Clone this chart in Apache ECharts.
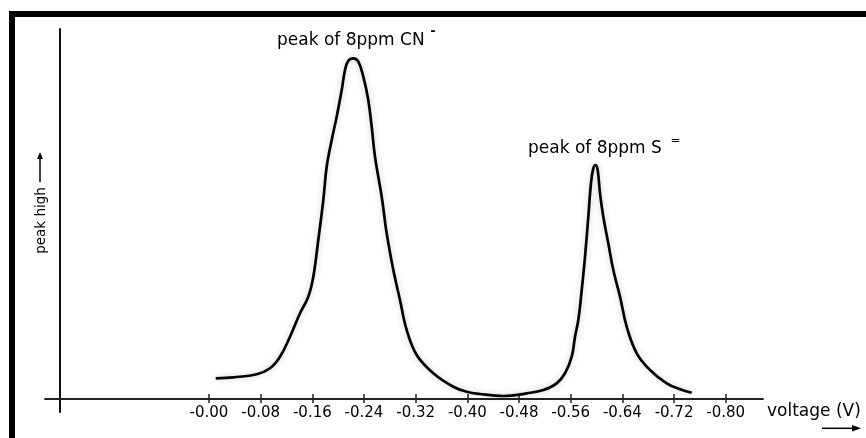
<!DOCTYPE html>
<html>
<head>
<meta charset="utf-8">
<style>
  html, body { margin: 0; padding: 0; background: #fff; }
  #chart { width: 866px; height: 438px; }
</style>
<script src="https://cdn.jsdelivr.net/npm/echarts@6/dist/echarts.min.js"></script>
</head>
<body>
<div id="chart"></div>
<script>
const voltage = [
  -0.0104, -0.0376, -0.0739, -0.0944, -0.1099, -0.1254, -0.1409, -0.1537, -0.1615, -0.1692,
  -0.1770, -0.1822, -0.1900, -0.1977, -0.2055, -0.2106, -0.2157, -0.2234, -0.2312, -0.2389,
  -0.2466, -0.2519, -0.2570, -0.2674, -0.2751, -0.2854, -0.2957, -0.3061, -0.3216, -0.3473,
  -0.3782, -0.3990, -0.4196, -0.4557, -0.4919, -0.5176, -0.5383, -0.5512, -0.5616, -0.5667,
  -0.5718, -0.5771, -0.5822, -0.5873, -0.5914, -0.5950, -0.5987, -0.6018, -0.6054, -0.6105,
  -0.6182, -0.6260, -0.6364, -0.6467, -0.6622, -0.6828, -0.7087, -0.7293, -0.7474
];
const peakHeight = [
  5.59, 5.86, 6.68, 8.30, 11.43, 16.84, 23.16, 27.65, 33.05, 42.97,
  53.78, 62.78, 70.00, 76.30, 83.51, 88.92, 91.43, 92.08, 91.16, 87.11,
  80.81, 73.59, 65.49, 54.68, 44.78, 34.86, 26.76, 18.65, 11.89, 6.95,
  3.32, 1.97, 1.35, 0.81, 1.54, 2.43, 4.24, 6.95, 11.43, 16.84,
  21.35, 29.46, 38.46, 49.27, 58.30, 62.35, 63.24, 61.89, 55.59, 49.27,
  42.08, 34.86, 27.65, 19.54, 12.35, 7.84, 4.24, 2.62, 1.70
];
const tickValues = [0, -0.08, -0.16, -0.24, -0.32, -0.40, -0.48, -0.56, -0.64, -0.72, -0.80];
const tickLabels = ['-0.00', '-0.08', '-0.16', '-0.24', '-0.32', '-0.40', '-0.48', '-0.56', '-0.64', '-0.72', '-0.80'];
const peakLabels = ['peak of 8ppm CN', 'peak of 8ppm S'];
const peakCharges = ['-', '='];
const xName = 'voltage (V)';
const yName = 'peak high';

const FONT = '"DejaVu Sans", "Liberation Sans", sans-serif';

function labelFor(v) {
  let best = 0, bd = Infinity;
  tickValues.forEach((t, i) => { const d = Math.abs(t - v); if (d < bd) { bd = d; best = i; } });
  return tickLabels[best];
}

const chart = echarts.init(document.getElementById('chart'), null, { renderer: 'canvas' });

const xBase = {
  type: 'value',
  inverse: true,
  min: -0.85775,
  max: 0.25392,
  position: 'bottom',
  offset: -13,
  splitLine: { show: false }
};

chart.setOption({
  backgroundColor: '#fff',
  animation: false,
  grid: { left: 45, right: 103, top: 29, bottom: 26, containLabel: false, outerBoundsMode: 'none' },
  xAxis: [
    Object.assign({}, xBase, {
      name: xName,
      nameLocation: 'start',
      nameGap: 4,
      nameTextStyle: { fontFamily: FONT, fontSize: 17, color: '#000', align: 'left', verticalAlign: 'top', padding: [4, 0, 0, 0] },
      axisLine: { show: true, onZero: false, lineStyle: { color: '#222', width: 2 } },
      axisTick: { show: true, inside: false, length: 4, customValues: tickValues, lineStyle: { color: '#222', width: 1.5 } },
      axisLabel: { show: true, customValues: tickValues, margin: 7, fontFamily: FONT, fontSize: 15, color: '#000', formatter: labelFor }
    }),
    Object.assign({}, xBase, {
      axisLine: { show: false, onZero: false },
      axisTick: { show: true, inside: true, length: 5, customValues: tickValues, lineStyle: { color: '#222', width: 1.5 } },
      axisLabel: { show: false }
    })
  ],
  yAxis: {
    type: 'value',
    min: -3.5135,
    max: 100,
    offset: -15,
    name: yName,
    nameLocation: 'middle',
    nameRotate: 90,
    nameGap: 12,
    nameTextStyle: { fontFamily: FONT, fontSize: 13.5, color: '#000' },
    axisLine: { show: true, onZero: false, lineStyle: { color: '#111', width: 2 } },
    axisTick: { show: false },
    axisLabel: { show: false },
    splitLine: { show: false }
  },
  series: [{
    type: 'line',
    xAxisIndex: 0,
    data: voltage.map((v, i) => [v, peakHeight[i]]),
    smooth: 0.4,
    symbol: 'none',
    lineStyle: { color: '#000', width: 2.7, shadowColor: 'rgba(0,0,0,0.22)', shadowBlur: 6 }
  }],
  graphic: [
    { type: 'rect', shape: { x: 9, y: 11, width: 6, height: 427 }, style: { fill: '#000' } },
    { type: 'rect', shape: { x: 9, y: 11, width: 857, height: 6 }, style: { fill: '#000' } },
    { type: 'text', x: 277, y: 40.5, style: { text: peakLabels[0], font: '17px ' + FONT, fill: '#000', align: 'left', verticalAlign: 'middle' } },
    { type: 'text', x: 433, y: 32, style: { text: peakCharges[0], font: 'bold 13px ' + FONT, fill: '#000', align: 'center', verticalAlign: 'middle' } },
    { type: 'text', x: 528, y: 149, style: { text: peakLabels[1], font: '17px ' + FONT, fill: '#000', align: 'left', verticalAlign: 'middle' } },
    { type: 'text', x: 675.5, y: 140.5, style: { text: peakCharges[1], font: '12px ' + FONT, fill: '#000', align: 'center', verticalAlign: 'middle' } },
    { type: 'line', shape: { x1: 40, y1: 182, x2: 40, y2: 157 }, style: { stroke: '#000', lineWidth: 1.5 } },
    { type: 'polygon', shape: { points: [[40, 152], [37, 159], [43, 159]] }, style: { fill: '#000' } },
    { type: 'line', shape: { x1: 822, y1: 428.3, x2: 854, y2: 428.3 }, style: { stroke: '#000', lineWidth: 1.5 } },
    { type: 'polygon', shape: { points: [[861, 428.3], [852, 425], [852, 431.6]] }, style: { fill: '#000' } }
  ]
});
</script>
</body>
</html>
